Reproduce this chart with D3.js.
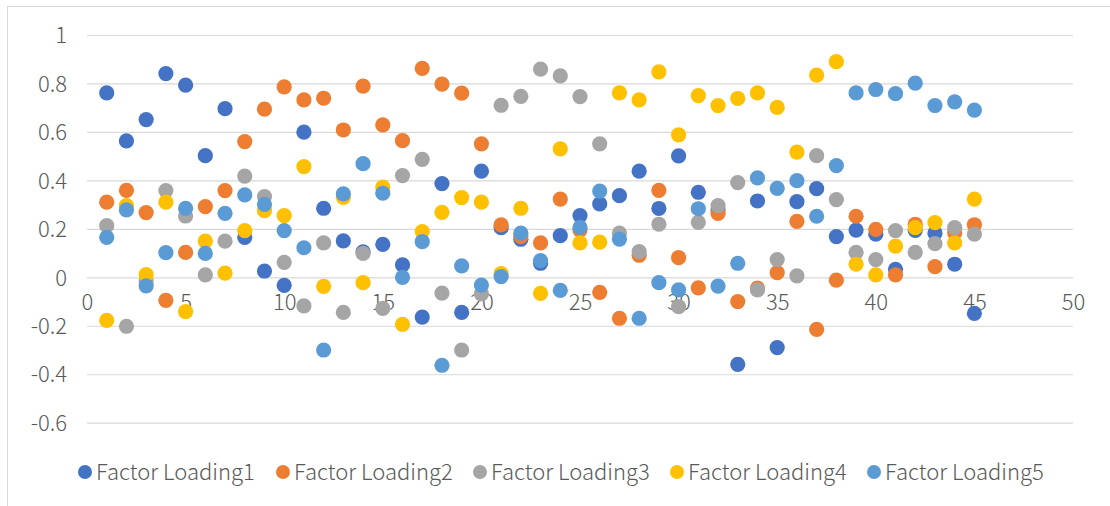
<!DOCTYPE html>
<html>
<head>
<meta charset="utf-8">
<script src="https://cdn.jsdelivr.net/npm/d3@7"></script>
<style>
  html, body { margin: 0; padding: 0; background: #fff; }
  svg { display: block; }
  text { font-family: "Noto Sans CJK SC", "Noto Sans", sans-serif; font-weight: 300; fill: #595959; }
</style>
</head>
<body>
<svg id="chart" width="1110" height="506"></svg>
<script>
const xIndex = d3.range(1, 46);
const seriesNames = ["Factor Loading1", "Factor Loading2", "Factor Loading3", "Factor Loading4", "Factor Loading5"];
const seriesColors = ["#4472C4", "#ED7D31", "#A5A5A5", "#FFC000", "#5B9BD5"];
const xTicks = [0, 5, 10, 15, 20, 25, 30, 35, 40, 45, 50];
const yTicks = [-0.6, -0.4, -0.2, 0, 0.2, 0.4, 0.6, 0.8, 1];

const loading1 = [0.761, 0.563, 0.651, 0.841, 0.793, 0.502, 0.696, 0.165, 0.026, -0.033,
  0.599, 0.285, 0.150, 0.105, 0.136, 0.051, -0.164, 0.387, -0.145, 0.438,
  0.205, 0.157, 0.058, 0.172, 0.255, 0.303, 0.337, 0.438, 0.284, 0.501,
  0.351, 0.278, -0.359, 0.315, -0.290, 0.312, 0.366, 0.168, 0.195, 0.178,
  0.033, 0.194, 0.182, 0.054, -0.149];
const loading2 = [0.310, 0.359, 0.267, -0.095, 0.103, 0.292, 0.358, 0.560, 0.694, 0.786,
  0.732, 0.739, 0.608, 0.789, 0.629, 0.564, 0.862, 0.797, 0.760, 0.551,
  0.216, 0.168, 0.142, 0.323, 0.195, -0.062, -0.169, 0.091, 0.359, 0.081,
  -0.044, 0.264, -0.100, -0.045, 0.019, 0.231, -0.215, -0.012, 0.252, 0.198,
  0.010, 0.219, 0.044, 0.184, 0.217];
const loading3 = [0.213, -0.202, -0.015, 0.358, 0.253, 0.010, 0.149, 0.418, 0.333, 0.062,
  -0.118, 0.142, -0.145, 0.099, -0.128, 0.420, 0.487, -0.065, -0.300, -0.068,
  0.710, 0.747, 0.859, 0.831, 0.746, 0.551, 0.182, 0.106, 0.219, -0.121,
  0.227, 0.296, 0.391, -0.052, 0.073, 0.006, 0.502, 0.321, 0.103, 0.073,
  0.193, 0.103, 0.139, 0.205, 0.178];
const loading4 = [-0.178, 0.296, 0.011, 0.310, -0.142, 0.149, 0.017, 0.193, 0.275, 0.255,
  0.457, -0.037, 0.330, -0.022, 0.372, -0.194, 0.189, 0.268, 0.329, 0.310,
  0.015, 0.285, -0.066, 0.530, 0.142, 0.145, 0.761, 0.732, 0.848, 0.588,
  0.750, 0.709, 0.738, 0.761, 0.701, 0.517, 0.834, 0.890, 0.054, 0.010,
  0.129, 0.205, 0.226, 0.142, 0.323];
const loading5 = [0.165, 0.278, -0.035, 0.102, 0.285, 0.099, 0.264, 0.340, 0.301, 0.193,
  0.122, -0.300, 0.344, 0.469, 0.347, 0.000, 0.147, -0.363, 0.047, -0.032,
  0.003, 0.182, 0.069, -0.054, 0.206, 0.356, 0.158, -0.169, -0.022, -0.052,
  0.283, -0.036, 0.058, 0.410, 0.367, 0.399, 0.252, 0.461, 0.761, 0.775,
  0.758, 0.801, 0.709, 0.724, 0.690];

const allSeries = [loading1, loading2, loading3, loading4, loading5];

const svg = d3.select("#chart");

// chart border
svg.append("rect").attr("x", 7.5).attr("y", 6.5).attr("width", 1130).attr("height", 530)
  .attr("fill", "none").attr("stroke", "#d9d9d9").attr("stroke-width", 1);

const x = d3.scaleLinear().domain([0, 50]).range([87, 1073]);
const y = d3.scaleLinear().domain([-0.6, 1]).range([422.7, 35]);

// gridlines
const grid = svg.append("g").attr("transform", `translate(${x(0)},0)`)
  .call(d3.axisRight(y).tickValues(yTicks).tickSize(x(50) - x(0)).tickFormat(""));
grid.select(".domain").remove();
grid.selectAll(".tick line").attr("stroke", "#d9d9d9").attr("stroke-width", 1.2);

const fmt = d => (d === 0 ? "0" : String(+d.toFixed(1)));
const FONT = "'Noto Sans CJK SC', 'Noto Sans', sans-serif";

// y axis labels
const yAxis = svg.append("g").attr("transform", `translate(67,0)`)
  .call(d3.axisLeft(y).tickValues(yTicks).tickSize(0).tickPadding(0).tickFormat(fmt));
yAxis.select(".domain").remove();
yAxis.selectAll("text").attr("font-size", 22).attr("fill", "#595959")
  .attr("font-family", FONT).attr("font-weight", 300).attr("dy", "0.35em");

// x axis labels (at y = 0)
const xAxis = svg.append("g").attr("transform", `translate(0,${y(0)})`)
  .call(d3.axisBottom(x).tickValues(xTicks).tickSize(0).tickPadding(0).tickFormat(fmt));
xAxis.select(".domain").remove();
xAxis.selectAll("text").attr("font-size", 22).attr("fill", "#595959")
  .attr("font-family", FONT).attr("font-weight", 300)
  .attr("dy", "0").attr("y", 33);

// points
allSeries.forEach((vals, si) => {
  svg.append("g").selectAll("circle")
    .data(vals.map((v, i) => ({ xi: xIndex[i], v })))
    .join("circle")
    .attr("cx", d => x(d.xi))
    .attr("cy", d => y(d.v))
    .attr("r", 7.6)
    .attr("fill", seriesColors[si]);
});

// legend
const legend = svg.append("g");
const legX = [85, 283, 480, 677, 874];
seriesNames.forEach((name, i) => {
  const g = legend.append("g").attr("transform", `translate(${legX[i]},472)`);
  g.append("circle").attr("r", 7).attr("fill", seriesColors[i]);
  g.append("text").attr("x", 11).attr("y", 0).attr("dy", "0.35em")
    .attr("font-size", 22).text(name);
});
</script>
</body>
</html>
